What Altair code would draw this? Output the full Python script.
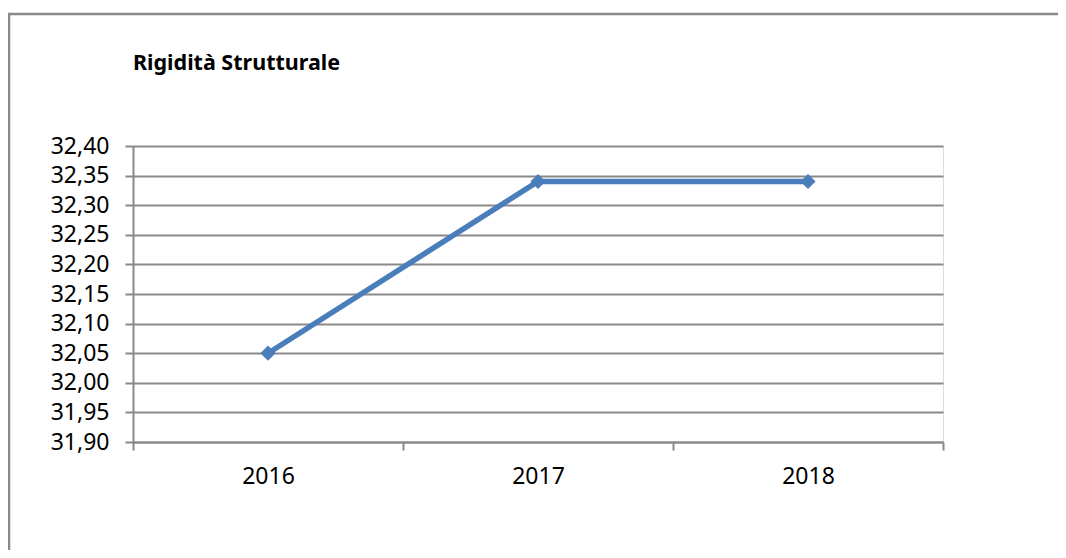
import altair as alt
import pandas as pd

years = [2016, 2017, 2018]
values = [32.05, 32.34, 32.34]
y_ticks = [31.90, 31.95, 32.00, 32.05, 32.10, 32.15, 32.20, 32.25, 32.30, 32.35, 32.40]
x_ticks = [2015.5, 2016.5, 2017.5, 2018.5]
title_text = "Rigidità Strutturale"

df = pd.DataFrame({"anno": years, "valore": values})

FONT = "Noto Sans"
GRAY = "#898989"
BLUE = "#4A7EBB"

base = alt.Chart(df)

line = base.mark_line(
    color=BLUE, strokeWidth=5.5,
    point=alt.OverlayMarkDef(shape="diamond", size=230, color=BLUE, filled=True, opacity=1),
).encode(
    x=alt.X("anno:Q",
            scale=alt.Scale(domain=[x_ticks[0], x_ticks[-1]], nice=False, zero=False),
            axis=alt.Axis(values=x_ticks, title=None, grid=False,
                          labelExpr="datum.value < 2018 ? toString(datum.value + 0.5) : ''",
                          labelOffset=135, labelPadding=15, tickSize=8,
                          labelFlush=False, labelAlign="center", labelOverlap=False,
                          labelFontSize=23, labelFont=FONT, labelColor="#000000",
                          domainColor=GRAY, domainWidth=2, tickColor=GRAY, tickWidth=2)),
    y=alt.Y("valore:Q",
            scale=alt.Scale(domain=[y_ticks[0], y_ticks[-1]], nice=False, zero=False),
            axis=alt.Axis(values=y_ticks, title=None, grid=True, gridColor=GRAY, gridWidth=2,
                          gridOpacity=1, labelFlush=False, labelOverlap=False,
                          labelExpr="replace(format(datum.value, '.2f'), '.', ',')",
                          labelPadding=16, tickSize=8,
                          labelFontSize=23, labelFont=FONT, labelColor="#000000",
                          domainColor=GRAY, domainWidth=2, tickColor=GRAY, tickWidth=2)),
)

frame_data = alt.Data(values=[{"t": title_text}])
title_mark = alt.Chart(frame_data).mark_text(
    align="left", baseline="alphabetic", font=FONT, fontSize=21.5, fontWeight="bold", color="#000000"
).encode(x=alt.value(0), y=alt.value(-76), text="t:N")
top_border = alt.Chart(frame_data).mark_rule(color=GRAY, strokeWidth=2.5).encode(
    x=alt.value(-125), x2=alt.value(1000), y=alt.value(-132))
left_border = alt.Chart(frame_data).mark_rule(color=GRAY, strokeWidth=2.5).encode(
    x=alt.value(-124), y=alt.value(-133), y2=alt.value(500))

chart = alt.layer(line, title_mark, top_border, left_border).properties(
    width=810, height=296,
    autosize=alt.AutoSizeParams(type="none"),
    padding={"left": 125, "top": 138, "right": 115, "bottom": 108},
).configure_view(stroke=None).configure(background="white")

chart.save("out.html", embed_options={"renderer": "svg", "actions": False})
